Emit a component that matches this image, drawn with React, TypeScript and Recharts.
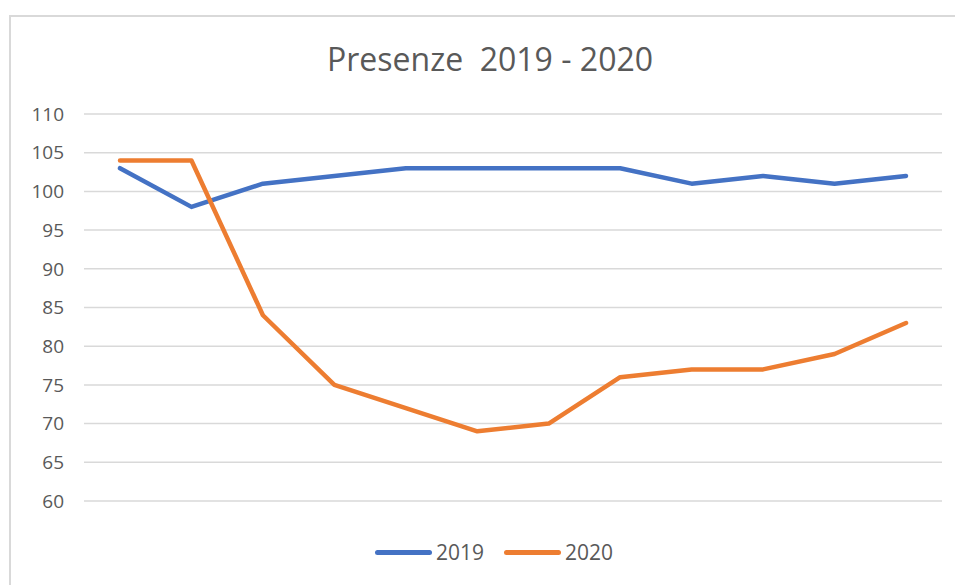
import { LineChart, Line, XAxis, YAxis, CartesianGrid } from 'recharts'

const MONTHS = ['1', '2', '3', '4', '5', '6', '7', '8', '9', '10', '11', '12']
const Y2019 = [103, 98, 101, 102, 103, 103, 103, 103, 101, 102, 101, 102]
const Y2020 = [104, 104, 84, 75, 72, 69, 70, 76, 77, 77, 79, 83]
const Y_TICKS = [60, 65, 70, 75, 80, 85, 90, 95, 100, 105, 110]

const BLUE = '#4472C4'
const ORANGE = '#ED7D31'
const TEXT = '#595959'
const FONT = '"Open Sans", "Noto Sans", sans-serif'

const data = MONTHS.map((m, i) => ({ month: m, y2019: Y2019[i], y2020: Y2020[i] }))

const LegendItem = ({ color, label }: { color: string; label: string }) => (
  <div style={{ display: 'flex', alignItems: 'center', gap: 4 }}>
    <div style={{ width: 57, height: 5, borderRadius: 3, background: color }} />
    <span>{label}</span>
  </div>
)

const App = () => {
  return (
    <div
      style={{
        position: 'absolute',
        left: 0,
        top: 0,
        width: 955,
        height: 585,
        overflow: 'hidden',
        background: '#fff',
        fontFamily: FONT,
        color: TEXT,
      }}
    >
      <div
        style={{
          position: 'absolute',
          left: 9,
          top: 15,
          width: 980,
          height: 600,
          border: '2px solid #D9D9D9',
          boxSizing: 'border-box',
        }}
      />
      <div
        style={{
          position: 'absolute',
          left: 0,
          width: 980,
          top: 39,
          textAlign: 'center',
          fontSize: 32,
          lineHeight: '40px',
          whiteSpace: 'pre',
        }}
      >
        {'Presenze  2019 - 2020'}
      </div>

      <div style={{ position: 'absolute', left: 0, top: 0 }}>
        <LineChart
          width={955}
          height={585}
          data={data}
          margin={{ top: 114, right: 13, bottom: 84, left: 0 }}
        >
          <CartesianGrid vertical={false} stroke='#D9D9D9' strokeWidth={1.5} />
          <XAxis dataKey='month' hide padding={{ left: 36, right: 36 }} />
          <YAxis
            width={84}
            domain={[60, 110]}
            ticks={Y_TICKS}
            interval={0}
            axisLine={false}
            tickLine={false}
            tickSize={0}
            tickMargin={20}
            tick={{ fill: TEXT, fontSize: 19, fontFamily: FONT }}
          />
          <Line
            dataKey='y2019'
            stroke={BLUE}
            strokeWidth={4.5}
            dot={false}
            strokeLinecap='round'
            strokeLinejoin='round'
            isAnimationActive={false}
          />
          <Line
            dataKey='y2020'
            stroke={ORANGE}
            strokeWidth={4.5}
            dot={false}
            strokeLinecap='round'
            strokeLinejoin='round'
            isAnimationActive={false}
          />
        </LineChart>
      </div>

      <div
        style={{
          position: 'absolute',
          left: 375,
          top: 538,
          display: 'flex',
          gap: 20,
          fontSize: 21,
          lineHeight: '28px',
        }}
      >
        <LegendItem color={BLUE} label='2019' />
        <LegendItem color={ORANGE} label='2020' />
      </div>
    </div>
  )
}

export default App
